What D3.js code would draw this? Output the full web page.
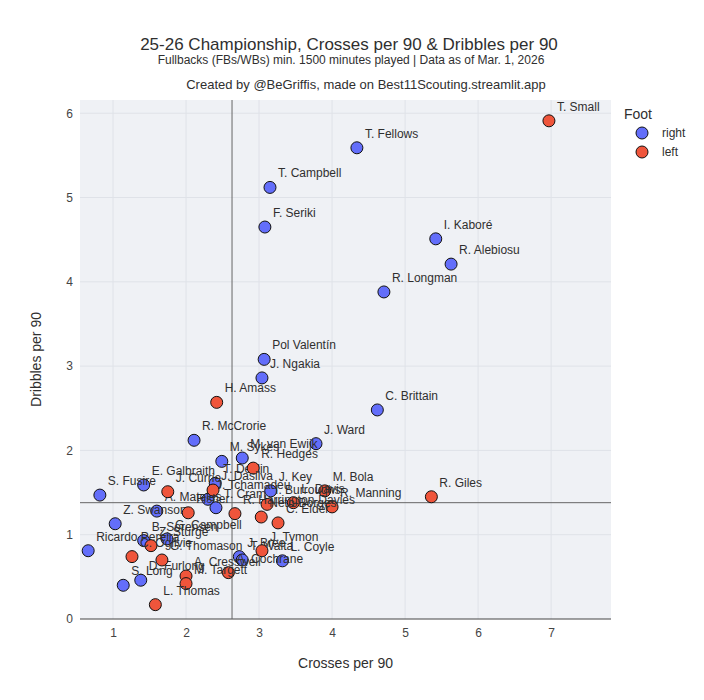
<!DOCTYPE html>
<head>
    <meta charset="utf-8">
    <script src="https://cdnjs.cloudflare.com/ajax/libs/d3/7.9.0/d3.js"></script>
    <style>
        body { margin: 0; background: #fff; }
        svg text { font-family: "Liberation Sans", Arial, sans-serif; }
    </style>
</head>
<body>
    <div id="chart"></div>
</body>

<script>

// player data

const players = [
    "T. Fellows", "T. Campbell", "F. Seriki", "I. Kaboré", "R. Alebiosu", "R. Longman",
    "Pol Valentín", "J. Ngakia", "C. Brittain", "R. McCrorie", "J. Ward", "M. van Ewijk",
    "M. Sykes", "T. Devlin", "E. Galbraith", "S. Fusire", "J. Tchamadeu", "T. Cram",
    "J. Key", "A. Mateles", "Z. Swanson", "Ricardo Pereira", "B. Sorensen", "G. Campbell",
    "D. Furlong", "S. Long", "J. Bree", "T. Walta", "L. Coyle",
    "T. Small", "H. Amass", "R. Hedges", "J. Dasilva", "J. Currie", "M. Bola",
    "R. Manning", "R. Giles", "L. Davis", "I. Burroughs", "R. Harrington-Davies", "Neto-Borges",
    "C. Elder", "Fisher", "Z. Sturge", "C. Ogilvie", "G. Thomason", "J. Tymon",
    "A. Cochrane", "A. Cresswell", "M. Targett", "L. Thomas"
]

const crosses = [
    4.34, 3.15, 3.08, 5.42, 5.63, 4.71,
    3.07, 3.04, 4.62, 2.11, 3.78, 2.77,
    2.49, 2.40, 1.42, 0.82, 2.30, 2.41,
    3.16, 1.60, 1.03, 0.66, 1.42, 1.74,
    1.38, 1.14, 2.73, 2.77, 3.32,
    6.97, 2.42, 2.92, 2.37, 1.75, 3.90,
    4.00, 5.36, 3.47, 3.11, 2.67, 3.03,
    3.26, 2.03, 1.52, 1.26, 1.67, 3.04,
    2.58, 2.00, 2.00, 1.58
]

const dribbles = [
    5.59, 5.12, 4.65, 4.51, 4.21, 3.88,
    3.08, 2.86, 2.48, 2.12, 2.08, 1.91,
    1.87, 1.61, 1.59, 1.47, 1.42, 1.32,
    1.52, 1.28, 1.13, 0.81, 0.93, 0.95,
    0.46, 0.40, 0.74, 0.70, 0.69,
    5.91, 2.57, 1.79, 1.53, 1.51, 1.52,
    1.33, 1.45, 1.38, 1.36, 1.25, 1.21,
    1.14, 1.26, 0.87, 0.74, 0.70, 0.81,
    0.55, 0.51, 0.42, 0.17
]

const foot = [
    "right", "right", "right", "right", "right", "right",
    "right", "right", "right", "right", "right", "right",
    "right", "right", "right", "right", "right", "right",
    "right", "right", "right", "right", "right", "right",
    "right", "right", "right", "right", "right",
    "left", "left", "left", "left", "left", "left",
    "left", "left", "left", "left", "left", "left",
    "left", "left", "left", "left", "left", "left",
    "left", "left", "left", "left"
]

const footGroups = ["right", "left"]
const footColors = ["#636efa", "#ef553b"]

// league averages shown as reference lines
const avgCrosses = 2.63
const avgDribbles = 1.38

const xTicks = [1, 2, 3, 4, 5, 6, 7]
const yTicks = [0, 1, 2, 3, 4, 5, 6]

// dimensions

const W = 704, H = 700
const margin = {top: 100, right: 93, bottom: 81, left: 80}
const width = W - margin.left - margin.right
const height = H - margin.top - margin.bottom

const svg = d3.select("#chart")
    .append("svg")
    .attr("width", W)
    .attr("height", H)

const textColor = "#2f2f2f"

// titles

svg.append("text")
    .attr("x", 349).attr("y", 50)
    .attr("text-anchor", "middle")
    .attr("font-size", 17)
    .attr("fill", textColor)
    .text("25-26 Championship, Crosses per 90 & Dribbles per 90")

svg.append("text")
    .attr("x", 351).attr("y", 64)
    .attr("text-anchor", "middle")
    .attr("font-size", 12)
    .attr("fill", textColor)
    .text("Fullbacks (FBs/WBs) min. 1500 minutes played | Data as of Mar. 1, 2026")

svg.append("text")
    .attr("x", 366).attr("y", 89)
    .attr("text-anchor", "middle")
    .attr("font-size", 13)
    .attr("fill", textColor)
    .text("Created by @BeGriffis, made on Best11Scouting.streamlit.app")

const g = svg.append("g")
    .attr("transform", `translate(${margin.left},${margin.top})`)

// scales

const x = d3.scaleLinear()
    .domain([0.548, 7.82])
    .range([0, width])

const y = d3.scaleLinear()
    .domain([0, 6.157])
    .range([height, 0])

const color = d3.scaleOrdinal().domain(footGroups).range(footColors)

// background + grid

g.append("rect")
    .attr("width", width)
    .attr("height", height)
    .attr("fill", "#eff1f5")

g.append("g")
    .selectAll("line")
    .data(xTicks)
    .join("line")
    .attr("x1", d => x(d)).attr("x2", d => x(d))
    .attr("y1", 0).attr("y2", height)
    .attr("stroke", "#dfe2e8")

g.append("g")
    .selectAll("line")
    .data(yTicks.slice(1))
    .join("line")
    .attr("x1", 0).attr("x2", width)
    .attr("y1", d => y(d)).attr("y2", d => y(d))
    .attr("stroke", "#dfe2e8")

// axes

const xAxis = g.append("g")
    .attr("transform", `translate(0,${height})`)
    .call(d3.axisBottom(x).tickValues(xTicks).tickFormat(d3.format("d")).tickSize(0).tickPadding(9))
xAxis.select(".domain").remove()

const yAxis = g.append("g")
    .call(d3.axisLeft(y).tickValues(yTicks).tickFormat(d3.format("d")).tickSize(0).tickPadding(7))
yAxis.select(".domain").remove()

g.selectAll(".tick text")
    .attr("font-size", 12)
    .attr("fill", "#444")
    .style("font-family", "'Liberation Sans', Arial, sans-serif")

// zero line

g.append("line")
    .attr("x1", 0).attr("x2", width)
    .attr("y1", y(0)).attr("y2", y(0))
    .attr("stroke", "#444").attr("stroke-width", 1)

// average lines

g.append("line")
    .attr("x1", x(avgCrosses)).attr("x2", x(avgCrosses))
    .attr("y1", 0).attr("y2", height)
    .attr("stroke", "#666").attr("stroke-width", 1)

g.append("line")
    .attr("x1", 0).attr("x2", width)
    .attr("y1", y(avgDribbles)).attr("y2", y(avgDribbles))
    .attr("stroke", "#666").attr("stroke-width", 1)

// axis titles

svg.append("text")
    .attr("x", margin.left + width / 2).attr("y", 668)
    .attr("text-anchor", "middle")
    .attr("font-size", 14)
    .attr("fill", textColor)
    .text("Crosses per 90")

svg.append("text")
    .attr("transform", `translate(41,${margin.top + height / 2}) rotate(-90)`)
    .attr("text-anchor", "middle")
    .attr("font-size", 14)
    .attr("fill", textColor)
    .text("Dribbles per 90")

// points, one layer per foot like the original traces

const data = players.map((p, i) => ({name: p, cx: crosses[i], dy: dribbles[i], foot: foot[i]}))

footGroups.forEach(f => {
    const sub = data.filter(d => d.foot === f)
    const layer = g.append("g")

    layer.selectAll("circle")
        .data(sub)
        .join("circle")
        .attr("cx", d => x(d.cx))
        .attr("cy", d => y(d.dy))
        .attr("r", 6)
        .attr("fill", color(f))
        .attr("stroke", "#111")
        .attr("stroke-width", 1)

    layer.selectAll("text")
        .data(sub)
        .join("text")
        .attr("x", d => x(d.cx) + 8)
        .attr("y", d => y(d.dy) - 10)
        .attr("font-size", 12)
        .attr("fill", textColor)
        .text(d => d.name)
})

// legend

const legend = svg.append("g")
    .attr("transform", "translate(620,0)")

legend.append("text")
    .attr("x", 4).attr("y", 119)
    .attr("font-size", 14)
    .attr("fill", textColor)
    .text("Foot")

footGroups.forEach((f, i) => {
    legend.append("circle")
        .attr("cx", 22).attr("cy", 133 + i * 19)
        .attr("r", 6)
        .attr("fill", color(f))
        .attr("stroke", "#111")
    legend.append("text")
        .attr("x", 42).attr("y", 137 + i * 19)
        .attr("font-size", 12)
        .attr("fill", textColor)
        .text(f)
})

</script>
